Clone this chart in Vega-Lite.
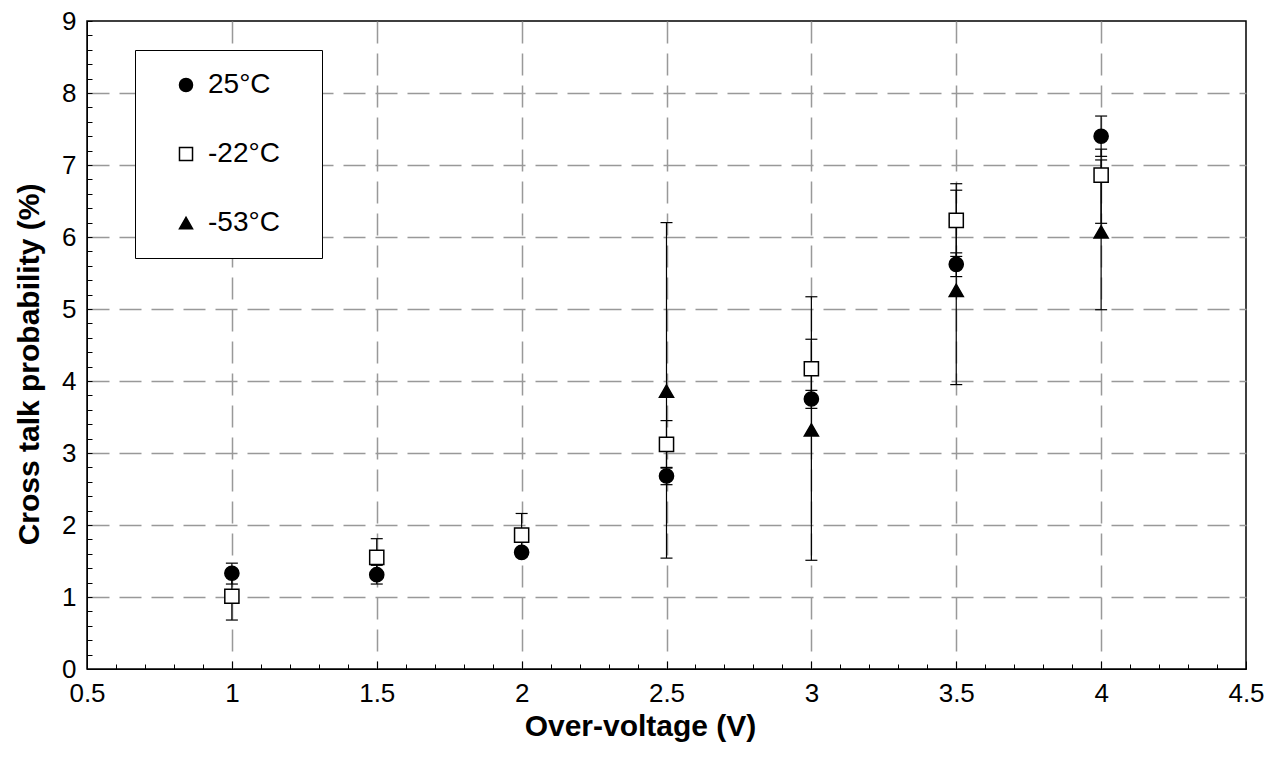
{
  "$schema": "https://vega.github.io/schema/vega-lite/v6.json",
  "autosize": {"type": "none"},
  "width": 1159,
  "height": 648,
  "padding": {"left": 87, "top": 21, "right": 30, "bottom": 94},
  "background": "white",
  "config": {
    "font": "Liberation Sans",
    "view": {"stroke": "#000000", "strokeWidth": 1.5},
    "axis": {
      "labelFont": "Liberation Sans",
      "labelFontSize": 26,
      "labelColor": "#000000",
      "titleFont": "Liberation Sans",
      "titleFontSize": 30,
      "titleFontWeight": "bold",
      "titleColor": "#000000",
      "domainColor": "#000000",
      "tickColor": "#000000",
      "gridColor": "#999999",
      "gridDash": [22, 10],
      "gridWidth": 1.5
    },
    "legend": {
      "orient": "none",
      "legendX": 48,
      "legendY": 29,
      "strokeColor": "#000000",
      "fillColor": "#ffffff",
      "padding": 21,
      "labelFont": "Liberation Sans",
      "labelFontSize": 28,
      "labelColor": "#000000",
      "rowPadding": 41,
      "symbolOffset": 16,
      "labelOffset": 8,
      "symbolSize": 170
    }
  },
  "data": {
    "values": [
      {"v": 1.0, "temp": "25°C", "y": 1.33, "lo": 1.18, "hi": 1.47},
      {"v": 1.5, "temp": "25°C", "y": 1.31, "lo": 1.18, "hi": 1.44},
      {"v": 2.0, "temp": "25°C", "y": 1.62, "lo": 1.57, "hi": 1.67},
      {"v": 2.5, "temp": "25°C", "y": 2.68, "lo": 2.56, "hi": 2.8},
      {"v": 3.0, "temp": "25°C", "y": 3.75, "lo": 3.62, "hi": 3.87},
      {"v": 3.5, "temp": "25°C", "y": 5.62, "lo": 5.45, "hi": 5.78},
      {"v": 4.0, "temp": "25°C", "y": 7.4, "lo": 7.12, "hi": 7.68},
      {"v": 1.0, "temp": "-22°C", "y": 1.01, "lo": 0.68, "hi": 1.34},
      {"v": 1.5, "temp": "-22°C", "y": 1.55, "lo": 1.29, "hi": 1.81},
      {"v": 2.0, "temp": "-22°C", "y": 1.86, "lo": 1.56, "hi": 2.16},
      {"v": 2.5, "temp": "-22°C", "y": 3.12, "lo": 2.79, "hi": 3.45},
      {"v": 3.0, "temp": "-22°C", "y": 4.17, "lo": 3.76, "hi": 4.58},
      {"v": 3.5, "temp": "-22°C", "y": 6.23, "lo": 5.73, "hi": 6.74},
      {"v": 4.0, "temp": "-22°C", "y": 6.86, "lo": 6.19, "hi": 7.07},
      {"v": 2.5, "temp": "-53°C", "y": 3.86, "lo": 1.54, "hi": 6.2},
      {"v": 3.0, "temp": "-53°C", "y": 3.32, "lo": 1.51, "hi": 5.17},
      {"v": 3.5, "temp": "-53°C", "y": 5.26, "lo": 3.95, "hi": 6.65},
      {"v": 4.0, "temp": "-53°C", "y": 6.07, "lo": 4.99, "hi": 7.22}
    ]
  },
  "encoding": {
    "x": {
      "field": "v",
      "type": "quantitative",
      "scale": {"domain": [0.5, 4.5], "nice": false, "zero": false},
      "axis": {
        "title": "Over-voltage (V)",
        "values": [0.5,0.6,0.7,0.8,0.9,1,1.1,1.2,1.3,1.4,1.5,1.6,1.7,1.8,1.9,2,2.1,2.2,2.3,2.4,2.5,2.6,2.7,2.8,2.9,3,3.1,3.2,3.3,3.4,3.5,3.6,3.7,3.8,3.9,4,4.1,4.2,4.3,4.4,4.5],
        "labelExpr": "abs(datum.value*2 - round(datum.value*2)) < 0.001 ? format(datum.value, '~g') : ''",
        "tickSize": {"condition": {"test": "abs(datum.value*2 - round(datum.value*2)) < 0.001", "value": -8}, "value": -5},
        "gridOpacity": {"condition": {"test": "abs(datum.value*2 - round(datum.value*2)) < 0.001 && datum.value > 0.6 && datum.value < 4.4", "value": 1}, "value": 0},
        "labelPadding": 19,
        "titlePadding": 5,
        "titleX": 553,
        "labelFlush": false
      }
    },
    "y": {
      "field": "y",
      "type": "quantitative",
      "scale": {"domain": [0, 9], "nice": false},
      "axis": {
        "title": "Cross talk probability (%)",
        "values": [0,0.2,0.4,0.6,0.8,1,1.2,1.4,1.6,1.8,2,2.2,2.4,2.6,2.8,3,3.2,3.4,3.6,3.8,4,4.2,4.4,4.6,4.8,5,5.2,5.4,5.6,5.8,6,6.2,6.4,6.6,6.8,7,7.2,7.4,7.6,7.8,8,8.2,8.4,8.6,8.8,9],
        "labelExpr": "abs(datum.value - round(datum.value)) < 0.001 ? format(datum.value, '~g') : ''",
        "tickSize": -5,
        "gridOpacity": {"condition": {"test": "abs(datum.value - round(datum.value)) < 0.001 && datum.value > 0.5 && datum.value < 8.5", "value": 1}, "value": 0},
        "labelPadding": 16,
        "titlePadding": 17,
        "titleY": 343,
        "labelFlush": false
      }
    }
  },
  "layer": [
    {
      "mark": {"type": "rule", "color": "#000000", "strokeWidth": 1.2},
      "encoding": {"y": {"field": "lo", "type": "quantitative"}, "y2": {"field": "hi"}}
    },
    {
      "mark": {"type": "tick", "orient": "horizontal", "color": "#000000", "size": 12, "thickness": 1.2, "opacity": 1},
      "encoding": {"y": {"field": "lo", "type": "quantitative"}}
    },
    {
      "mark": {"type": "tick", "orient": "horizontal", "color": "#000000", "size": 12, "thickness": 1.2, "opacity": 1},
      "encoding": {"y": {"field": "hi", "type": "quantitative"}}
    },
    {
      "mark": {"type": "point", "stroke": "#000000", "strokeWidth": 1.5, "opacity": 1, "size": 200},
      "encoding": {
        "shape": {
          "field": "temp",
          "type": "nominal",
          "scale": {"domain": ["25°C", "-22°C", "-53°C"], "range": ["circle", "square", "triangle-up"]},
          "legend": {"title": null, "labelExpr": "datum.label + '\u2800'"}
        },
        "fill": {
          "field": "temp",
          "type": "nominal",
          "scale": {"domain": ["25°C", "-22°C", "-53°C"], "range": ["#000000", "#ffffff", "#000000"]},
          "legend": {"title": null, "labelExpr": "datum.label + '\u2800'"}
        }
      }
    }
  ]
}
